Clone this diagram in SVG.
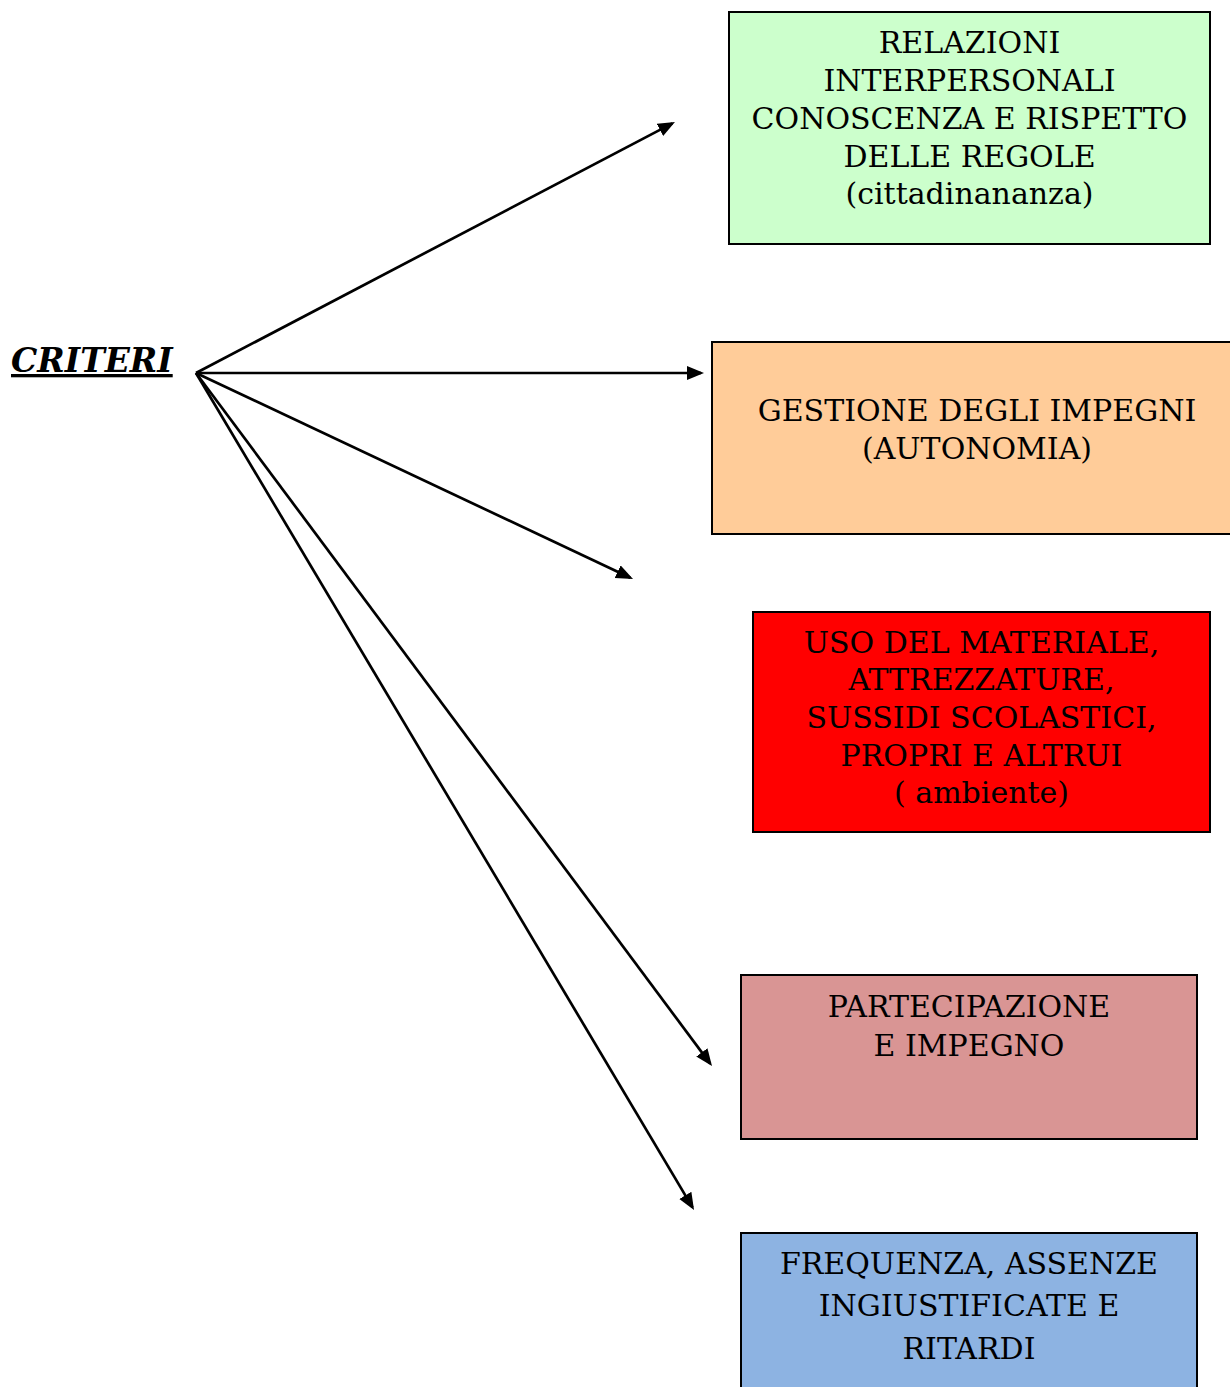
<svg xmlns="http://www.w3.org/2000/svg" width="1230" height="1387" viewBox="0 0 1230 1387">
<style>
  .box { stroke: #000; stroke-width: 2; }
  .t { font-family: "DejaVu Serif", "Liberation Serif", serif; font-size: 30px; fill: #000; text-anchor: middle; }
  .title { font-family: "DejaVu Serif", "Liberation Serif", serif; font-size: 33px; font-weight: bold; font-style: italic; text-decoration: underline; fill: #000; }
  .conn line { stroke: #000; stroke-width: 2.7; fill: none; marker-end: url(#arr); }
</style>
<defs>
  <marker id="arr" markerUnits="userSpaceOnUse" markerWidth="18" markerHeight="15" refX="14" refY="7" orient="auto" viewBox="0 0 18 15">
    <path d="M0,0 L17,7 L0,14 z" fill="#000"/>
  </marker>
</defs>
<rect width="1230" height="1387" fill="#fff"/>

<g id="criteri">
  <text class="title" x="11" y="372">CRITERI</text>
</g>

<g id="connectors" class="conn">
  <line x1="196" y1="373" x2="672.3" y2="123.4"/>
  <line x1="196" y1="373" x2="701" y2="373"/>
  <line x1="196" y1="373" x2="630.3" y2="577.7"/>
  <line x1="196" y1="373" x2="710.2" y2="1063.6"/>
  <line x1="196" y1="373" x2="692.5" y2="1207.4"/>
</g>

<g id="relazioni">
  <rect class="box" x="729" y="12" width="481" height="232" fill="#CCFFCC"/>
  <text class="t" x="969.5" y="53">RELAZIONI</text>
  <text class="t" x="969.5" y="91">INTERPERSONALI</text>
  <text class="t" x="969.5" y="129">CONOSCENZA E RISPETTO</text>
  <text class="t" x="969.5" y="166.5">DELLE REGOLE</text>
  <text class="t" x="969.5" y="204">(cittadinananza)</text>
</g>

<g id="gestione">
  <rect class="box" x="712" y="342" width="530" height="192" fill="#FFCC99"/>
  <text class="t" x="977" y="421">GESTIONE DEGLI IMPEGNI</text>
  <text class="t" x="977" y="459">(AUTONOMIA)</text>
</g>

<g id="uso">
  <rect class="box" x="753" y="612" width="457" height="220" fill="#FF0000"/>
  <text class="t" x="981.5" y="653">USO DEL MATERIALE,</text>
  <text class="t" x="981.5" y="690">ATTREZZATURE,</text>
  <text class="t" x="981.5" y="728">SUSSIDI SCOLASTICI,</text>
  <text class="t" x="981.5" y="766">PROPRI E ALTRUI</text>
  <text class="t" x="981.5" y="803">( ambiente)</text>
</g>

<g id="partecipazione">
  <rect class="box" x="741" y="975" width="456" height="164" fill="#D99594"/>
  <text class="t" x="969" y="1017">PARTECIPAZIONE</text>
  <text class="t" x="969" y="1056">E IMPEGNO</text>
</g>

<g id="frequenza">
  <rect class="box" x="741" y="1233" width="456" height="170" fill="#8DB3E2"/>
  <text class="t" x="969" y="1274">FREQUENZA, ASSENZE</text>
  <text class="t" x="969" y="1316">INGIUSTIFICATE E</text>
  <text class="t" x="969" y="1359">RITARDI</text>
</g>
</svg>
